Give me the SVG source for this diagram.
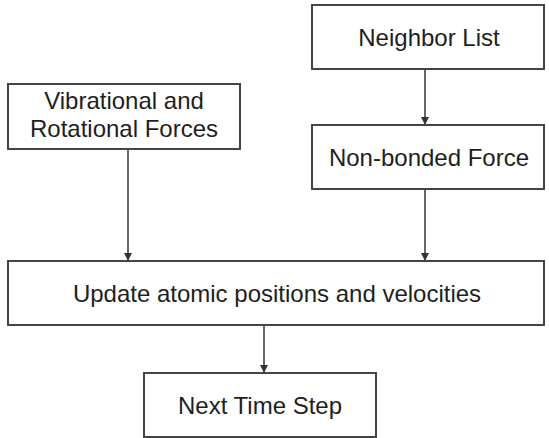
<svg xmlns="http://www.w3.org/2000/svg" width="549" height="438" viewBox="0 0 549 438">
<style>
.box{fill:#fff;stroke:#444;stroke-width:2}
.lbl{font-family:"Liberation Sans",Arial,sans-serif;font-size:24px;fill:#1e1e1e;text-anchor:middle}
.edge{stroke:#333;stroke-width:1.5;fill:none}
</style>
<defs>
<marker id="ah" viewBox="0 0 10 10" refX="10" refY="5" markerWidth="8" markerHeight="8" markerUnits="userSpaceOnUse" orient="auto">
<path d="M0,0 L10,5 L0,10 z" fill="#333"/>
</marker>
</defs>
<rect width="549" height="438" fill="#fff"/>
<g id="connectors">
<line class="edge" x1="425" y1="69" x2="425" y2="125" marker-end="url(#ah)"/>
<line class="edge" x1="425" y1="189" x2="425" y2="261" marker-end="url(#ah)"/>
<line class="edge" x1="128" y1="149" x2="128" y2="261" marker-end="url(#ah)"/>
<line class="edge" x1="264" y1="325" x2="264" y2="373" marker-end="url(#ah)"/>
</g>
<g id="neighbor">
<rect class="box" x="312" y="5" width="232" height="64"/>
<text class="lbl" x="429" y="46">Neighbor List</text>
</g>
<g id="nonbonded">
<rect class="box" x="312" y="125" width="232" height="64"/>
<text class="lbl" x="429" y="166">Non-bonded Force</text>
</g>
<g id="vibrational">
<rect class="box" x="8" y="84" width="232" height="65"/>
<text class="lbl" x="124" y="109">Vibrational and</text>
<text class="lbl" x="124" y="137">Rotational Forces</text>
</g>
<g id="update">
<rect class="box" x="8" y="261" width="536" height="64"/>
<text class="lbl" x="277" y="302">Update atomic positions and velocities</text>
</g>
<g id="next">
<rect class="box" x="144" y="373" width="232" height="64"/>
<text class="lbl" x="260" y="414">Next Time Step</text>
</g>
</svg>
